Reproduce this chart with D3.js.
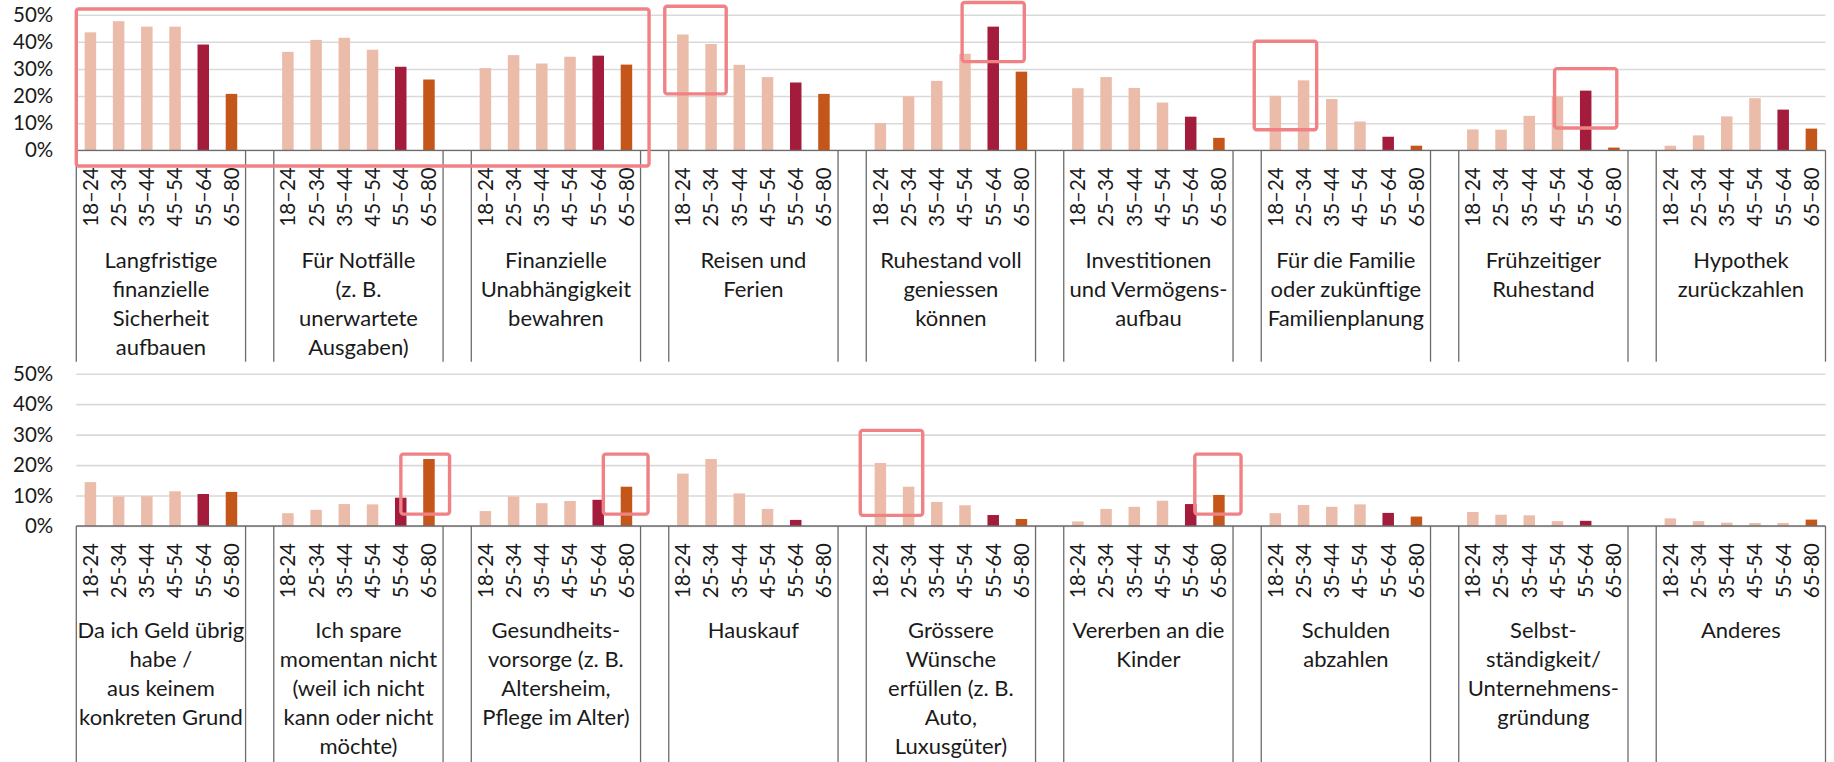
<!DOCTYPE html>
<html><head><meta charset="utf-8">
<script src="https://cdn.jsdelivr.net/npm/d3@7"></script>
<style>
body{margin:0;background:#fff}
svg{display:block}
text{font-family:Lato,"Open Sans","Noto Sans",sans-serif}
</style>
</head><body>
<svg id="chart" width="1834" height="762"></svg>
<script>
// ---------------- DATA ----------------
const ageGroupsTop = ["18–24","25–34","35–44","45–54","55–64","65–80"];
const ageGroupsBottom = ["18-24","25-34","35-44","45-54","55-64","65-80"];

const topCategories = [
  "Langfristige\nfinanzielle\nSicherheit\naufbauen",
  "Für Notfälle\n(z. B.\nunerwartete\nAusgaben)",
  "Finanzielle\nUnabhängigkeit\nbewahren",
  "Reisen und\nFerien",
  "Ruhestand voll\ngeniessen\nkönnen",
  "Investitionen\nund Vermögens-\naufbau",
  "Für die Familie\noder zukünftige\nFamilienplanung",
  "Frühzeitiger\nRuhestand",
  "Hypothek\nzurückzahlen"
];
const bottomCategories = [
  "Da ich Geld übrig\nhabe /\naus keinem\nkonkreten Grund",
  "Ich spare\nmomentan nicht\n(weil ich nicht\nkann oder nicht\nmöchte)",
  "Gesundheits-\nvorsorge (z. B.\nAltersheim,\nPflege im Alter)",
  "Hauskauf",
  "Grössere\nWünsche\nerfüllen (z. B.\nAuto,\nLuxusgüter)",
  "Vererben an die\nKinder",
  "Schulden\nabzahlen",
  "Selbst-\nständigkeit/\nUnternehmens-\ngründung",
  "Anderes"
];

// values in %, one array per age group, in category order
const top18_24 = [43.5, 36.3, 30.3, 42.7, 10.0, 22.9, 20.1, 7.7, 1.7];
const top25_34 = [47.6, 40.7, 35.1, 39.2, 19.9, 27.0, 25.8, 7.6, 5.5];
const top35_44 = [45.6, 41.5, 32.0, 31.5, 25.6, 23.0, 18.9, 12.7, 12.5];
const top45_54 = [45.6, 37.1, 34.5, 27.0, 35.6, 17.6, 10.6, 19.8, 19.2];
const top55_64 = [39.0, 30.8, 34.9, 25.0, 45.6, 12.4, 5.0, 22.0, 15.0];
const top65_80 = [20.8, 26.1, 31.6, 20.8, 29.0, 4.6, 1.7, 1.0, 8.0];

const bottom18_24 = [14.4, 4.2, 4.9, 17.2, 20.7, 1.5, 4.2, 4.6, 2.5];
const bottom25_34 = [9.7, 5.3, 9.7, 22.0, 12.9, 5.6, 6.9, 3.7, 1.6];
const bottom35_44 = [9.8, 7.2, 7.5, 10.7, 7.9, 6.3, 6.3, 3.5, 1.1];
const bottom45_54 = [11.4, 7.1, 8.2, 5.6, 6.8, 8.3, 7.1, 1.6, 1.0];
const bottom55_64 = [10.5, 9.3, 8.6, 2.0, 3.6, 7.2, 4.3, 1.7, 1.0];
const bottom65_80 = [11.2, 22.0, 12.9, 0, 2.3, 10.2, 3.1, 0, 2.1];

const yTickValues = [0, 10, 20, 30, 40, 50];

// highlight boxes: category index range, age index range, value range (%)
const highlights = [
  {panel:0, cat0:0, age0:0, cat1:2, age1:5, hi:52.1, lo:-5.8, padL:0, padR:8.5},
  {panel:0, cat0:3, age0:0, cat1:3, age1:1, hi:53.1, lo:20.8, padL:4, padR:1},
  {panel:0, cat0:4, age0:4, cat1:4, age1:4, hi:54.5, lo:32.7, padL:17, padR:17},
  {panel:0, cat0:6, age0:0, cat1:6, age1:1, hi:40.2, lo:7.6, padL:7, padR:-1},
  {panel:0, cat0:7, age0:4, cat1:7, age1:4, hi:30.1, lo:8.2, padL:17, padR:17},
  {panel:1, cat0:1, age0:5, cat1:1, age1:5, hi:23.6, lo:3.9, padL:14, padR:6.5},
  {panel:1, cat0:2, age0:5, cat1:2, age1:5, hi:23.6, lo:3.9, padL:9, padR:7.5},
  {panel:1, cat0:4, age0:0, cat1:4, age1:1, hi:31.4, lo:3.5, padL:6, padR:0},
  {panel:1, cat0:5, age0:5, cat1:5, age1:5, hi:23.6, lo:3.9, padL:10, padR:8}
];

// ---------------- STYLE / LAYOUT ----------------
const seriesColors = ["#EBBCA9","#EBBCA9","#EBBCA9","#EBBCA9","#A31C3B","#C5561A"];
// individually recoloured points (panel, category, age index)
const colorOverrides = [{panel:1, cat:8, age:4, color:"#EBBCA9"}];
const plotLeft = 76.3, plotRight = 1825.5;
const barWidth = 11.5;
const fontSize = 20.5;
const catFontSize = 22;

const panels = [
  {cats: topCategories, ages: ageGroupsTop,
   series: [top18_24, top25_34, top35_44, top45_54, top55_64, top65_80],
   y0: 150.3, y50: 14.7, bottom: 361.7, labelBaseline: 267.7},
  {cats: bottomCategories, ages: ageGroupsBottom,
   series: [bottom18_24, bottom25_34, bottom35_44, bottom45_54, bottom55_64, bottom65_80],
   y0: 526, y50: 373.7, bottom: 770, labelBaseline: 638}
];

const svg = d3.select("#chart");

// slot keys: 6 age slots per category + 1 blank slot between categories
const nCats = 9;
const slotKeys = [];
for (let c = 0; c < nCats; c++) {
  for (let a = 0; a < 6; a++) slotKeys.push(c + "-" + a);
  if (c < nCats - 1) slotKeys.push("gap" + c);
}
const x = d3.scaleBand().domain(slotKeys).range([plotLeft, plotRight]).padding(0);
const step = x.bandwidth();

function barColor(pi, ci, ai) {
  const o = colorOverrides.find(o => o.panel === pi && o.cat === ci && o.age === ai);
  return o ? o.color : seriesColors[ai];
}

panels.forEach((p, pi) => {
  const y = d3.scaleLinear().domain([0, 50]).range([p.y0, p.y50]);
  p.y = y;
  const g = svg.append("g");

  // gridlines + y tick labels
  const yAxis = d3.axisLeft(y).tickValues(yTickValues)
    .tickSize(-(plotRight - plotLeft)).tickPadding(23)
    .tickFormat(d => d + "%");
  const ga = g.append("g").attr("transform", `translate(${plotLeft},0)`).call(yAxis);
  ga.select(".domain").remove();
  ga.selectAll(".tick line").attr("stroke", "#D9D9D9").attr("stroke-width", 1.6);
  ga.selectAll(".tick text").attr("fill", "#1a1a1a").style("font-size", fontSize + "px")
    .style("font-family", 'Lato,"Open Sans",sans-serif');

  // bars
  const barData = [];
  p.cats.forEach((cat, ci) => {
    p.series.forEach((s, ai) => barData.push({ci, ai, v: s[ci]}));
  });
  g.append("g").selectAll("rect").data(barData).join("rect")
    .attr("x", d => x(d.ci + "-" + d.ai) + (step - barWidth) / 2)
    .attr("width", barWidth)
    .attr("y", d => y(d.v))
    .attr("height", d => y(0) - y(d.v))
    .attr("fill", d => barColor(pi, d.ci, d.ai));

  // category axis line
  g.append("line").attr("x1", plotLeft).attr("x2", plotRight)
    .attr("y1", y(0)).attr("y2", y(0))
    .attr("stroke", "#6b6b6b").attr("stroke-width", 1.3);

  // group boundary lines
  const bounds = [];
  p.cats.forEach((cat, ci) => {
    bounds.push(x(ci + "-0"));
    bounds.push(x(ci + "-5") + step);
  });
  g.append("g").selectAll("line").data(bounds).join("line")
    .attr("x1", d => d).attr("x2", d => d)
    .attr("y1", y(0)).attr("y2", p.bottom)
    .attr("stroke", "#6b6b6b").attr("stroke-width", 1.3);

  // age tick labels (rotated)
  const tickData = [];
  p.cats.forEach((cat, ci) => p.ages.forEach((a, ai) => tickData.push({ci, ai, a})));
  g.append("g").selectAll("text").data(tickData).join("text")
    .attr("transform", d => `translate(${x(d.ci + "-" + d.ai) + step / 2},${y(0) + 17}) rotate(-90)`)
    .attr("text-anchor", "end").attr("dy", "0.36em")
    .style("font-size", fontSize + "px").attr("fill", "#1a1a1a")
    .text(d => d.a);

  // category labels
  const cg = g.append("g").selectAll("text").data(p.cats).join("text")
    .attr("text-anchor", "middle")
    .style("font-size", catFontSize + "px").attr("fill", "#1a1a1a")
    .attr("transform", (d, ci) => {
      const cx = (x(ci + "-0") + x(ci + "-5") + step) / 2;
      return `translate(${cx},${p.labelBaseline})`;
    });
  cg.selectAll("tspan").data(d => d.split("\n")).join("tspan")
    .attr("x", 0).attr("y", (d, i) => i * 29).text(d => d);
});

// highlight boxes
svg.append("g").selectAll("rect").data(highlights).join("rect")
  .attr("x", d => x(d.cat0 + "-" + d.age0) - d.padL)
  .attr("width", d => x(d.cat1 + "-" + d.age1) + step + d.padR - (x(d.cat0 + "-" + d.age0) - d.padL))
  .attr("y", d => panels[d.panel].y(d.hi))
  .attr("height", d => panels[d.panel].y(d.lo) - panels[d.panel].y(d.hi))
  .attr("rx", 2.5)
  .attr("fill", "none").attr("stroke", "#F08286").attr("stroke-width", 3.4);
</script>
</body></html>
